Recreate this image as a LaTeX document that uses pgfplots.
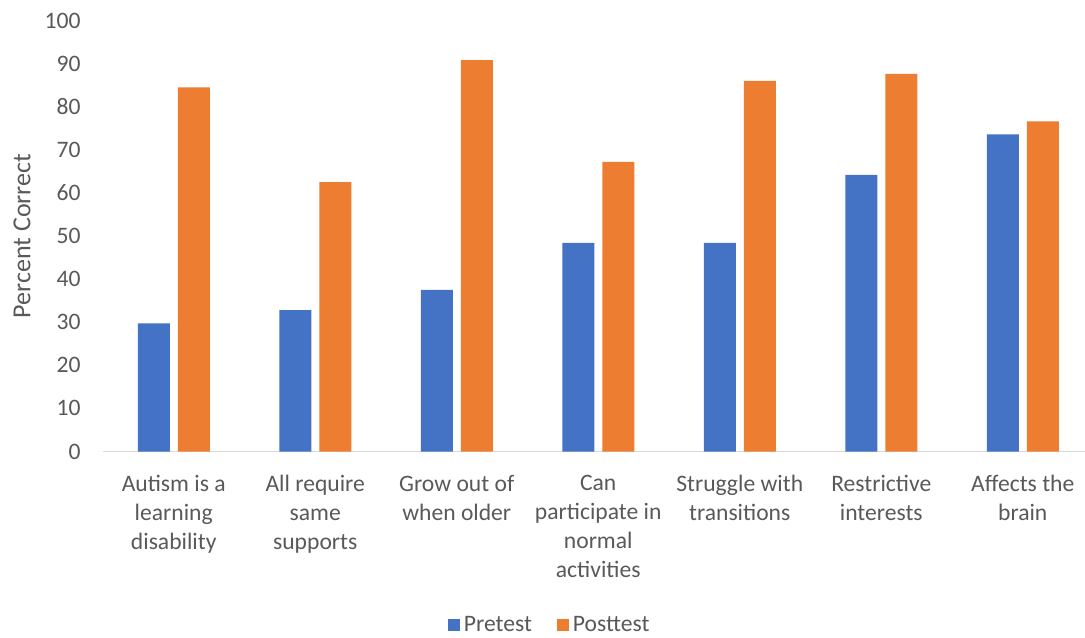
\documentclass[border=0pt]{standalone}
\usepackage{pgfplots}
\pgfplotsset{compat=1.18}
\usepackage{fontspec}
\setmainfont{Carlito}
\definecolor{preblue}{HTML}{4472C4}
\definecolor{postorange}{HTML}{ED7D31}
\definecolor{txtgray}{HTML}{595959}
\definecolor{axgray}{HTML}{D9D9D9}
\begin{document}
\begin{tikzpicture}
\begin{axis}[
  at={(51.5pt,92.75pt)}, anchor=south west,
  scale only axis,
  width=495.25pt, height=215.5pt,
  xmin=-0.5, xmax=6.5, ymin=0, ymax=100,
  ybar=4pt, bar width=16pt,
  axis lines*=left,
  x axis line style={-, draw=axgray, line width=0.8pt},
  y axis line style={draw=none},
  major tick length=0pt,
  ytick={0,10,...,100},
  xtick={0,...,6},
  xticklabels={
    {Autism is a\\learning\\disability},
    {All require\\same\\supports},
    {Grow out of\\when older},
    {Can\\participate in\\normal\\activities},
    {Struggle with\\transitions},
    {Restrictive\\interests},
    {Affects the\\brain}},
  /pgf/number format/assume math mode=true,
  tick label style={font=\fontsize{11.8}{14.5}\selectfont, text=txtgray},
  yticklabel style={inner sep=0pt, xshift=-11pt},
  xticklabel style={align=center, anchor=north, inner sep=0pt, yshift=-11.5pt},
  ylabel={Percent Correct},
  ylabel style={at={(axis description cs:-0.0818,0.5)}, anchor=center,
    font=\fontsize{13}{15}\selectfont, text=txtgray},
  legend columns=2,
  legend style={at={(axis description cs:0.452,-0.403)}, anchor=center,
    draw=none, fill=none, font=\fontsize{11.8}{14}\selectfont, text=txtgray,
    /tikz/every even column/.append style={column sep=10.5pt}},
  legend image code/.code={\fill[#1] (0pt,-3pt) rectangle (6pt,3pt);},
]
\addplot[fill=preblue, draw=none] coordinates {
  (0,29.7) (1,32.8) (2,37.5) (3,48.4) (4,48.4) (5,64.2) (6,73.6)};
\addplot[fill=postorange, draw=none] coordinates {
  (0,84.5) (1,62.5) (2,90.8) (3,67.2) (4,86.0) (5,87.6) (6,76.6)};
\legend{Pretest, Posttest}
\end{axis}
\pgfresetboundingbox
\useasboundingbox (0,0) rectangle (542.5pt,318.5pt);
\end{tikzpicture}
\end{document}
